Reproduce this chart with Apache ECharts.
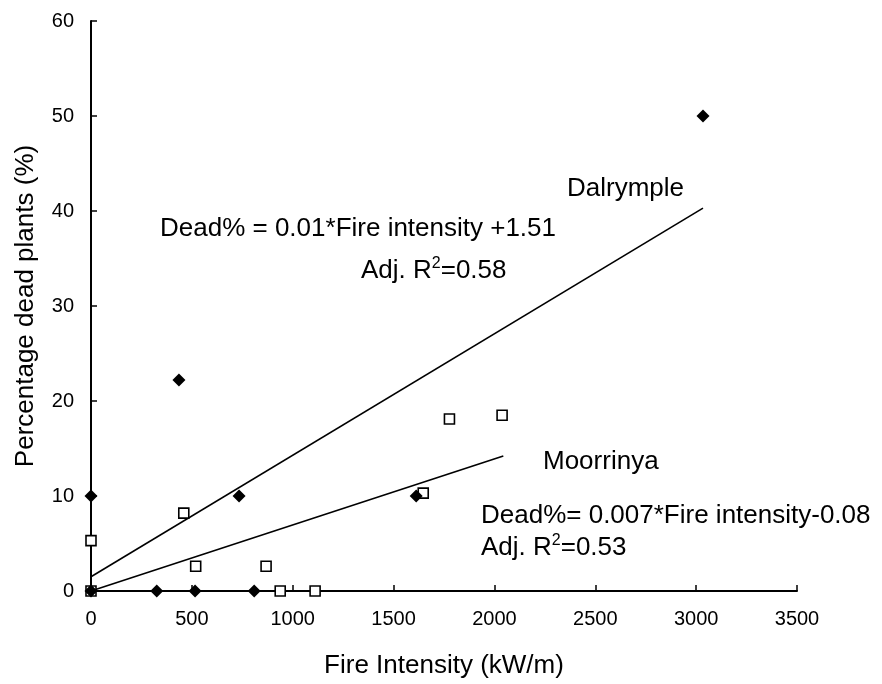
<!DOCTYPE html>
<html>
<head>
<meta charset="utf-8">
<script src="https://cdn.jsdelivr.net/npm/echarts@6/dist/echarts.min.js"></script>
<style>
  html, body { margin: 0; padding: 0; background: #fff; }
  #chart { width: 882px; height: 684px; }
</style>
</head>
<body>
<div id="chart"></div>
<script>
// Observed plots: fire intensity (kW/m) vs percentage of dead plants (%)
const dalrympleX = [0, 0, 326, 436, 516, 734, 809, 1612, 3034];
const dalrympleY = [0, 10, 0, 22.2, 0, 10, 0, 10, 50];

const moorrinyaX = [0, 0, 460, 519, 868, 938, 1111, 1647, 1777, 2038];
const moorrinyaY = [0, 5.3, 8.2, 2.6, 2.6, 0, 0, 10.3, 18.1, 18.5];

// Fitted regression lines (end points)
const dalrympleFitX = [0, 3034];
const dalrympleFitY = [1.5, 40.3];
const moorrinyaFitX = [0, 2044];
const moorrinyaFitY = [0, 14.2];

const xTicks = [0, 500, 1000, 1500, 2000, 2500, 3000, 3500];
const yTicks = [0, 10, 20, 30, 40, 50, 60];

const FONT = "'Liberation Sans', Arial, sans-serif";
const zip = (xs, ys) => xs.map((x, i) => [x, ys[i]]);

const chart = echarts.init(document.getElementById('chart'), null, { renderer: 'canvas' });

const axisCommon = {
  axisLine: { show: true, onZero: false, lineStyle: { color: '#000', width: 2 } },
  axisTick: { show: true, inside: true, length: 6, lineStyle: { color: '#000', width: 1.5 } },
  splitLine: { show: false },
  nameLocation: 'middle',
  nameTextStyle: { color: '#000', fontFamily: FONT, fontSize: 26 }
};

// Equation labels: superscript "2" drawn as a smaller, raised fragment
const supRich = {
  base: { fontFamily: FONT, fontSize: 26, color: '#000', lineHeight: 30 },
  sup: { fontFamily: FONT, fontSize: 16, color: '#000', verticalAlign: 'top', lineHeight: 30, padding: [0, 0, 0, 0] }
};

chart.setOption({
  animation: false,
  backgroundColor: '#fff',
  grid: { left: 91, right: 85, top: 21, bottom: 92, containLabel: false },
  xAxis: Object.assign({}, axisCommon, {
    type: 'value',
    min: xTicks[0],
    max: xTicks[xTicks.length - 1],
    interval: 500,
    name: 'Fire Intensity (kW/m)',
    nameGap: 62,
    axisLabel: { color: '#000', fontFamily: FONT, fontSize: 20, margin: 18, formatter: v => String(v) }
  }),
  yAxis: Object.assign({}, axisCommon, {
    type: 'value',
    min: yTicks[0],
    max: yTicks[yTicks.length - 1],
    interval: 10,
    name: 'Percentage dead plants (%)',
    nameGap: 52,
    axisLabel: { color: '#000', fontFamily: FONT, fontSize: 20, margin: 17, formatter: v => String(v) }
  }),
  series: [
    {
      name: 'Dalrymple fit',
      type: 'line',
      data: zip(dalrympleFitX, dalrympleFitY),
      showSymbol: false,
      symbol: 'none',
      lineStyle: { color: '#000', width: 1.6 },
      z: 2
    },
    {
      name: 'Moorrinya fit',
      type: 'line',
      data: zip(moorrinyaFitX, moorrinyaFitY),
      showSymbol: false,
      symbol: 'none',
      lineStyle: { color: '#000', width: 1.6 },
      z: 2
    },
    {
      name: 'Moorrinya',
      type: 'scatter',
      data: zip(moorrinyaX, moorrinyaY),
      symbol: 'rect',
      symbolSize: 10,
      itemStyle: { color: '#fff', borderColor: '#000', borderWidth: 1.6, opacity: 1 },
      z: 3
    },
    {
      name: 'Dalrymple',
      type: 'scatter',
      data: zip(dalrympleX, dalrympleY),
      symbol: 'diamond',
      symbolSize: 13,
      itemStyle: { color: '#000', opacity: 1 },
      z: 4
    }
  ],
  graphic: [
    { type: 'text', left: 567, top: 176, style: { text: 'Dalrymple', font: '26px ' + FONT, fill: '#000' } },
    { type: 'text', left: 160, top: 216, style: { text: 'Dead% = 0.01*Fire intensity +1.51', font: '26px ' + FONT, fill: '#000' } },
    { type: 'text', left: 361, top: 256, style: { text: '{base|Adj. R}{sup|2}{base|=0.58}', rich: supRich } },
    { type: 'text', left: 543, top: 449, style: { text: 'Moorrinya', font: '26px ' + FONT, fill: '#000' } },
    { type: 'text', left: 481, top: 503, style: { text: 'Dead%= 0.007*Fire intensity-0.08', font: '26px ' + FONT, fill: '#000' } },
    { type: 'text', left: 481, top: 533, style: { text: '{base|Adj. R}{sup|2}{base|=0.53}', rich: supRich } }
  ]
});
</script>
</body>
</html>
